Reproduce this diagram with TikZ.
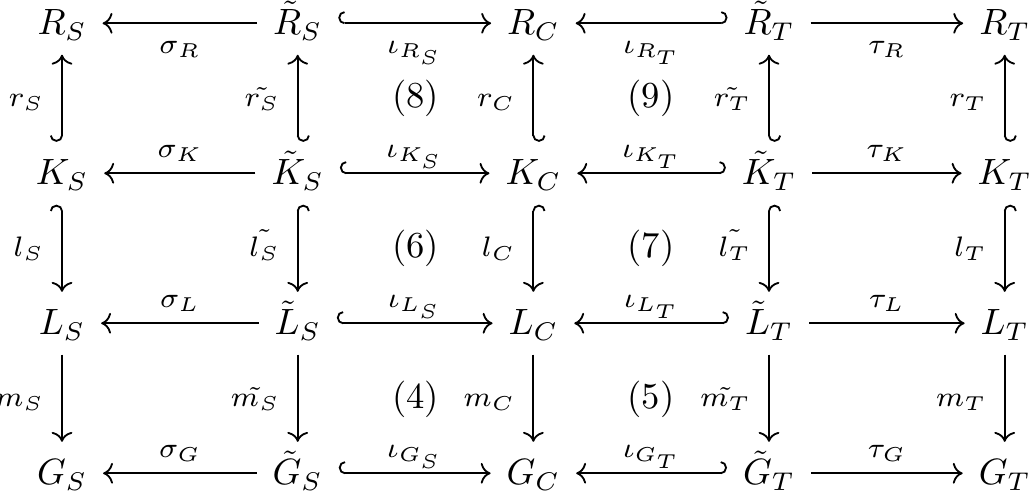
\documentclass[tikz,border=0pt]{standalone}
\usetikzlibrary{arrows.meta}
\newcommand\mylab[1]{\scalebox{1.1}{$\scriptstyle#1$}}
\begin{document}
\begin{tikzpicture}[x=0.27322pt, y=-0.27322pt,
  obj/.style={anchor=base, inner sep=0pt, outer sep=0pt, text height=7.4pt, text depth=1pt},
  ar/.style={line width=0.5pt, shorten >=4.4pt, shorten <=4.4pt, -{Computer Modern Rightarrow}},
  hk/.style={ar, {Hooks[right,length=1.7pt,width=6.6pt]}-{Computer Modern Rightarrow}},
  hkr/.style={ar, {Hooks[left,length=1.7pt,width=6.6pt]}-{Computer Modern Rightarrow}},
  labb/.style={midway, anchor=base, yshift=-8.2pt, inner sep=0pt},
  laba/.style={midway, anchor=base, yshift=4.2pt, inner sep=0pt},
  labv/.style={midway, anchor=base east, xshift=-4.7pt, yshift=-2.2pt, inner sep=0pt},
  sq/.style={inner sep=0pt}]
\useasboundingbox (0,0) rectangle (1033,492);
% row R
\node[obj] (RS) at (62,35) {$R_S$};
\node[obj] (RtS) at (297.7,35) {$\tilde{R}_S$};
\node[obj] (RC) at (533.4,35) {$R_C$};
\node[obj] (RtT) at (769,35) {$\tilde{R}_T$};
\node[obj] (RT) at (1004.7,35) {$R_T$};
% row K
\node[obj] (KS) at (62,185) {$K_S$};
\node[obj] (KtS) at (297.7,185) {$\tilde{K}_S$};
\node[obj] (KC) at (533.4,185) {$K_C$};
\node[obj] (KtT) at (769,185) {$\tilde{K}_T$};
\node[obj] (KT) at (1004.7,185) {$K_T$};
% row L
\node[obj] (LS) at (62,335) {$L_S$};
\node[obj] (LtS) at (297.7,335) {$\tilde{L}_S$};
\node[obj] (LC) at (533.4,335) {$L_C$};
\node[obj] (LtT) at (769,335) {$\tilde{L}_T$};
\node[obj] (LT) at (1004.7,335) {$L_T$};
% row G
\node[obj] (GS) at (62,485) {$G_S$};
\node[obj] (GtS) at (297.7,485) {$\tilde{G}_S$};
\node[obj] (GC) at (533.4,485) {$G_C$};
\node[obj] (GtT) at (769,485) {$\tilde{G}_T$};
\node[obj] (GT) at (1004.7,485) {$G_T$};
% square labels
\node[sq] (s8) at (415.5,98.3) {(8)};
\node[sq] (s9) at (651,98.3) {(9)};
\node[sq] (s6) at (415.5,248.7) {(6)};
\node[sq] (s7) at (651,248.7) {(7)};
\node[sq] (s4) at (415.5,399) {(4)};
\node[sq] (s5) at (651,399) {(5)};
% horizontal arrows
\draw[ar]  (RtS) -- node[labb] {\mylab{\sigma_R}} (RS);
\draw[hk]  (RtS) -- node[labb] {\mylab{\iota_{R_S}}} (RC);
\draw[hkr] (RtT) -- node[labb] {\mylab{\iota_{R_T}}} (RC);
\draw[ar]  (RtT) -- node[labb] {\mylab{\tau_R}} (RT);
\draw[ar]  (KtS) -- node[laba] {\mylab{\sigma_K}} (KS);
\draw[hk]  (KtS) -- node[laba] {\mylab{\iota_{K_S}}} (KC);
\draw[hkr] (KtT) -- node[laba] {\mylab{\iota_{K_T}}} (KC);
\draw[ar]  (KtT) -- node[laba] {\mylab{\tau_K}} (KT);
\draw[ar]  (LtS) -- node[laba] {\mylab{\sigma_L}} (LS);
\draw[hk]  (LtS) -- node[laba] {\mylab{\iota_{L_S}}} (LC);
\draw[hkr] (LtT) -- node[laba] {\mylab{\iota_{L_T}}} (LC);
\draw[ar]  (LtT) -- node[laba] {\mylab{\tau_L}} (LT);
\draw[ar]  (GtS) -- node[laba] {\mylab{\sigma_G}} (GS);
\draw[hk]  (GtS) -- node[laba] {\mylab{\iota_{G_S}}} (GC);
\draw[hkr] (GtT) -- node[laba] {\mylab{\iota_{G_T}}} (GC);
\draw[ar]  (GtT) -- node[laba] {\mylab{\tau_G}} (GT);
% vertical arrows r
\draw[hk]  (KS) -- node[labv] {\mylab{r_S}} (RS);
\draw[hkr] (KtS) -- node[labv] {\mylab{\tilde{r_S}}} (RtS);
\draw[hkr] (KC) -- node[labv] {\mylab{r_C}} (RC);
\draw[hkr] (KtT) -- node[labv] {\mylab{\tilde{r_T}}} (RtT);
\draw[hkr] (KT) -- node[labv] {\mylab{r_T}} (RT);
% vertical arrows l
\draw[hkr] (KS) -- node[labv] {\mylab{l_S}} (LS);
\draw[hk]  (KtS) -- node[labv] {\mylab{\tilde{l_S}}} (LtS);
\draw[hk]  (KC) -- node[labv] {\mylab{l_C}} (LC);
\draw[hk]  (KtT) -- node[labv] {\mylab{\tilde{l_T}}} (LtT);
\draw[hk]  (KT) -- node[labv] {\mylab{l_T}} (LT);
% vertical arrows m
\draw[ar] (LS) -- node[labv] {\mylab{m_S}} (GS);
\draw[ar] (LtS) -- node[labv] {\mylab{\tilde{m_S}}} (GtS);
\draw[ar] (LC) -- node[labv] {\mylab{m_C}} (GC);
\draw[ar] (LtT) -- node[labv] {\mylab{\tilde{m_T}}} (GtT);
\draw[ar] (LT) -- node[labv] {\mylab{m_T}} (GT);
\end{tikzpicture}
\end{document}
